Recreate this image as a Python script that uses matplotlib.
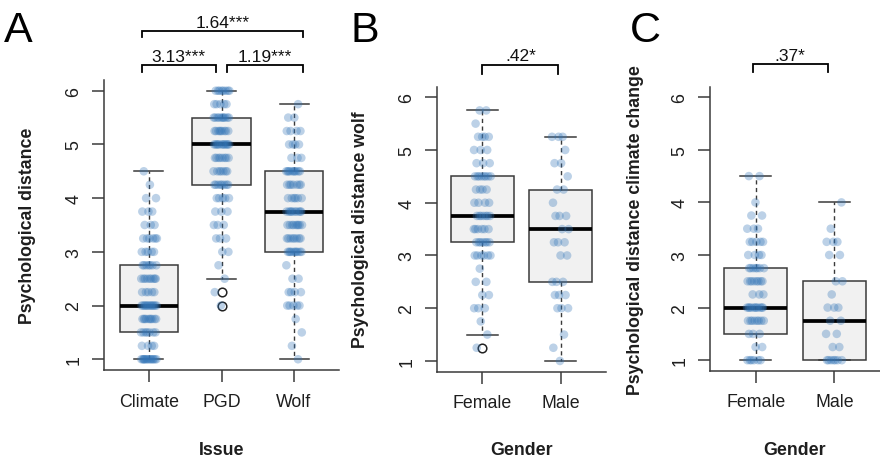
import matplotlib
matplotlib.use("Agg")
import matplotlib.pyplot as plt

plt.rcParams['font.family'] = ['Liberation Sans', 'DejaVu Sans']

# Response scale (1 to 6 in quarter steps)
scale = [1.0, 1.25, 1.5, 1.75, 2.0, 2.25, 2.5, 2.75, 3.0, 3.25, 3.5,
         3.75, 4.0, 4.25, 4.5, 4.75, 5.0, 5.25, 5.5, 5.75, 6.0]

# ---- Panel A: psychological distance by issue (respondents per scale step)
issues = ["Climate", "PGD", "Wolf"]
climate_counts = [14, 4, 7, 10, 13, 5, 9, 7, 5, 6, 3, 3, 2, 1, 1, 0, 0, 0, 0, 0, 0]
pgd_counts = [0, 0, 0, 0, 1, 1, 1, 1, 2, 3, 3, 3, 5, 8, 7, 8, 12, 9, 10, 5, 8]
wolf_counts = [1, 1, 1, 1, 5, 4, 2, 1, 10, 8, 9, 10, 6, 7, 10, 3, 4, 4, 2, 1, 0]
issue_med = [2.0, 5.0, 3.75]
issue_q1 = [1.5, 4.25, 3.0]
issue_q3 = [2.75, 5.5, 4.5]
issue_lo = [1.0, 2.5, 1.0]
issue_hi = [4.5, 6.0, 5.75]
issue_out = [[], [2.25, 2.0], []]

# ---- Panel B: psychological distance wolf by gender
genders = ["Female", "Male"]
wolf_female_counts = [0, 1, 1, 1, 3, 2, 2, 1, 6, 7, 6, 7, 4, 4, 8, 3, 3, 4, 1, 2, 0]
wolf_male_counts = [1, 1, 1, 0, 3, 3, 3, 0, 2, 3, 2, 3, 1, 2, 1, 2, 1, 3, 0, 0, 0]
wolf_med = [3.75, 3.5]
wolf_q1 = [3.25, 2.5]
wolf_q3 = [4.5, 4.25]
wolf_lo = [1.5, 1.0]
wolf_hi = [5.75, 5.25]
wolf_out = [[1.25], []]

# ---- Panel C: psychological distance climate change by gender
clim_female_counts = [6, 2, 3, 8, 11, 3, 8, 7, 4, 5, 3, 2, 1, 0, 2, 0, 0, 0, 0, 0, 0]
clim_male_counts = [7, 2, 2, 2, 3, 1, 2, 0, 2, 3, 1, 0, 1, 0, 0, 0, 0, 0, 0, 0, 0]
clim_med = [2.0, 1.75]
clim_q1 = [1.5, 1.0]
clim_q3 = [2.75, 2.5]
clim_lo = [1.0, 1.0]
clim_hi = [4.5, 4.0]
clim_out = [[], []]

# ---- Pairwise differences shown above the boxes
a_pairs = [(1, 2), (2, 3), (1, 3)]
a_diff_labels = ["3.13***", "1.19***", "1.64***"]
b_diff_label = ".42*"
c_diff_label = ".37*"

FIG_W, FIG_H = 880, 460
AXIS_COL = "#3a3a3a"
POINT_COL = "#3476b8"
GOLD = 0.6180339887


def rect(left, top, right, bottom):
    return [left / FIG_W, 1 - bottom / FIG_H, (right - left) / FIG_W, (bottom - top) / FIG_H]


def strip_points(counts, pos, phase, half=0.11):
    """Spread tied responses horizontally with a low-discrepancy sequence."""
    xs, ys = [], []
    k = 0
    for v, n in zip(scale, counts):
        for _ in range(n):
            u = (phase + k * GOLD) % 1.0
            xs.append(pos + (2 * u - 1) * half)
            ys.append(v)
            k += 1
    return xs, ys


def draw_panel(ax, names, counts, med, q1, q3, lo, hi, out):
    n = len(names)
    pos = list(range(1, n + 1))
    stats = [dict(med=med[i], q1=q1[i], q3=q3[i], whislo=lo[i], whishi=hi[i],
                  fliers=out[i]) for i in range(n)]
    ax.bxp(stats, positions=pos, widths=0.8, capwidths=0.4, patch_artist=True,
           showfliers=True,
           boxprops=dict(facecolor="#f1f1f1", edgecolor=AXIS_COL, linewidth=1.1),
           medianprops=dict(color="black", linewidth=2.7, solid_capstyle="butt"),
           whiskerprops=dict(color=AXIS_COL, linewidth=1.0, linestyle=(0, (3, 2.5))),
           capprops=dict(color=AXIS_COL, linewidth=1.1),
           flierprops=dict(marker="o", markerfacecolor="none", markeredgecolor="#222222",
                           markersize=6.2, markeredgewidth=1.1),
           zorder=2)
    for i, c in enumerate(counts):
        xs, ys = strip_points(c, pos[i], phase=0.17 + 0.29 * i)
        ax.scatter(xs, ys, s=38, color=POINT_COL, alpha=0.33, edgecolors="none", zorder=3)

    ax.set_xlim(0.5 - 0.04 * n, n + 0.5 + 0.04 * n)
    ax.set_ylim(0.8, 6.2)
    ax.set_xticks(pos)
    ax.set_xticklabels(names)
    ax.set_yticks([1, 2, 3, 4, 5, 6])
    ax.set_yticklabels(["1", "2", "3", "4", "5", "6"], rotation=90, va="center")
    for s in ("top", "right"):
        ax.spines[s].set_visible(False)
    for s in ("left", "bottom"):
        ax.spines[s].set_color(AXIS_COL)
        ax.spines[s].set_linewidth(1.1)
    ax.tick_params(axis="both", direction="out", length=8.5, width=1.1, color=AXIS_COL,
                   labelsize=12.8, labelcolor="#1e1e1e")
    ax.tick_params(axis="y", pad=7.2)
    ax.tick_params(axis="x", pad=7.8)
    ax.set_facecolor("none")


def bracket(ax, x0, x1, y_top, y_bot, label, text_y):
    ax.plot([x0, x0, x1, x1], [y_bot, y_top, y_top, y_bot], color="black",
            linewidth=1.3, clip_on=False, solid_joinstyle="miter")
    ax.text((x0 + x1) / 2, text_y, label, ha="center", va="baseline",
            fontsize=12.5, color="#111111", clip_on=False)


fig = plt.figure(figsize=(FIG_W / 100, FIG_H / 100), dpi=100)

ax_a = fig.add_axes(rect(104, 81, 339, 371))
ax_b = fig.add_axes(rect(437, 87.7, 606, 372.5))
ax_c = fig.add_axes(rect(710, 87.7, 880, 371.7))

draw_panel(ax_a, issues, [climate_counts, pgd_counts, wolf_counts],
           issue_med, issue_q1, issue_q3, issue_lo, issue_hi, issue_out)
draw_panel(ax_b, genders, [wolf_female_counts, wolf_male_counts],
           wolf_med, wolf_q1, wolf_q3, wolf_lo, wolf_hi, wolf_out)
draw_panel(ax_c, genders, [clim_female_counts, clim_male_counts],
           clim_med, clim_q1, clim_q3, clim_lo, clim_hi, clim_out)

# significance brackets
a_offsets = {1: -0.1, 2: 0.0, 3: 0.12}
for (g0, g1), lab in zip(a_pairs, a_diff_labels):
    x0 = g0 + a_offsets[g0] + (0.08 if g0 == 2 else 0.0)
    x1 = g1 + a_offsets[g1] - (0.08 if g1 == 2 else 0.0)
    if (g0, g1) == (1, 3):
        bracket(ax_a, x0, x1, 7.11, 7.0, lab, 7.19)
    else:
        bracket(ax_a, x0, x1, 6.48, 6.35, lab, 6.56)
bracket(ax_b, 1.0, 1.97, 6.61, 6.45, b_diff_label, 6.70)
bracket(ax_c, 0.96, 1.92, 6.64, 6.48, c_diff_label, 6.70)

# axis titles
title_kw = dict(fontsize=12.8, fontweight="bold", color="#1e1e1e")
fig.text(27 / FIG_W, 1 - 226 / FIG_H, "Psychological distance", rotation=90,
         ha="center", va="center", **title_kw)
fig.text(360 / FIG_W, 1 - 230 / FIG_H, "Psychological distance wolf", rotation=90,
         ha="center", va="center", **title_kw)
fig.text(635 / FIG_W, 1 - 230 / FIG_H, "Psychological distance climate change", rotation=90,
         ha="center", va="center", **title_kw)
fig.text(221.5 / FIG_W, 1 - 455 / FIG_H, "Issue", ha="center", va="baseline", **title_kw)
fig.text(521.5 / FIG_W, 1 - 455 / FIG_H, "Gender", ha="center", va="baseline", **title_kw)
fig.text(795 / FIG_W, 1 - 455 / FIG_H, "Gender", ha="center", va="baseline", **title_kw)

# panel letters
for x, letter in ((4, "A"), (350, "B"), (630, "C")):
    fig.text(x / FIG_W, 1 - 42 / FIG_H, letter, fontsize=31, ha="left", va="baseline",
             color="black")

fig.savefig("out.png", dpi=100, facecolor="white")
